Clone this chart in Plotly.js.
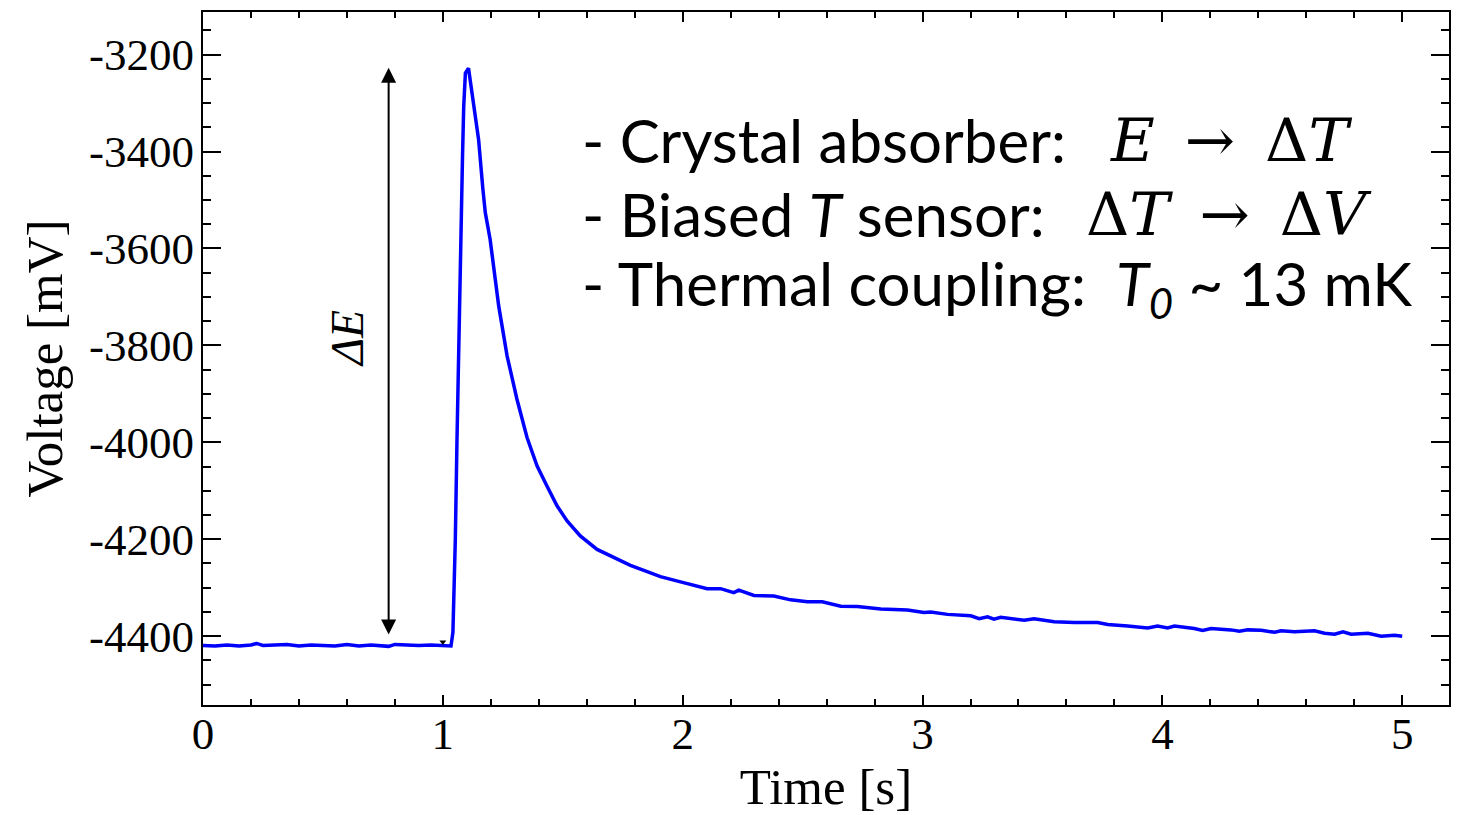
<!DOCTYPE html>
<html>
<head>
<meta charset="utf-8">
<script src="https://cdn.plot.ly/plotly-3.0.1.min.js"></script>
<style>html,body{margin:0;padding:0;background:#fff;}#chart{width:1457px;height:815px;}</style>
</head>
<body>
<div id="chart"></div>
<script>
// Pulse data
const timeS = [0, 0.05, 0.1, 0.15, 0.2, 0.224, 0.25, 0.3, 0.35, 0.4, 0.45, 0.5, 0.55, 0.6, 0.65, 0.7, 0.75, 0.774, 0.8, 0.85, 0.9, 0.95, 1.0, 1.034,
  1.042, 1.052, 1.059, 1.066, 1.073, 1.077, 1.082, 1.087, 1.094, 1.107, 1.128, 1.149, 1.167, 1.177, 1.197, 1.233, 1.268, 1.309, 1.351,
  1.393, 1.434, 1.476, 1.518, 1.573, 1.643, 1.713, 1.782, 1.852, 1.907, 1.991, 2.033, 2.102, 2.158, 2.213, 2.234, 2.297, 2.380, 2.450,
  2.520, 2.582, 2.659, 2.728, 2.826, 2.937, 3.006, 3.034, 3.104, 3.201, 3.236, 3.271, 3.298, 3.326, 3.424, 3.465, 3.549, 3.632, 3.730,
  3.772, 3.855, 3.939, 3.980, 4.022, 4.050, 4.133, 4.168, 4.203, 4.286, 4.321, 4.356, 4.412, 4.468, 4.495, 4.551, 4.634, 4.676, 4.718,
  4.753, 4.787, 4.857, 4.912, 4.968, 5.0];
const voltageMV = [-4419, -4420, -4418, -4420, -4418, -4415, -4419, -4418, -4417, -4420, -4418, -4419, -4420, -4417, -4420, -4418, -4419, -4421, -4417, -4418, -4419, -4418, -4419, -4420,
  -4392, -4200, -3994, -3788, -3581, -3513, -3410, -3307, -3238, -3228, -3307, -3375, -3478, -3526, -3581, -3719, -3822, -3911, -3990,
  -4049, -4090, -4131, -4162, -4193, -4221, -4238, -4254, -4267, -4277, -4288, -4293, -4302, -4302, -4310, -4305, -4316, -4317, -4325,
  -4329, -4329, -4338, -4339, -4344, -4346, -4351, -4350, -4355, -4358, -4364, -4360, -4365, -4361, -4367, -4364, -4370, -4372, -4372,
  -4376, -4379, -4383, -4379, -4383, -4379, -4384, -4388, -4384, -4387, -4390, -4387, -4388, -4392, -4389, -4391, -4389, -4394, -4396,
  -4391, -4396, -4394, -4400, -4398, -4400];

// trigger marker
const triggerT = [1.0];
const triggerV = [-4412];

// Delta E arrow (baseline to peak)
const deltaET = 0.774;
const deltaEV = [-4417, -3227];

const xTicks = [0, 1, 2, 3, 4, 5];
const yTicks = [-4400, -4200, -4000, -3800, -3600, -3400, -3200];

const serif = "Liberation Serif, Times New Roman, serif";
const mathSerif = "DejaVu Serif, Liberation Serif, serif";
const sans = "Lato, Noto Sans, sans-serif";

const traces = [
  {x: timeS, y: voltageMV, type: 'scatter', mode: 'lines',
   line: {color: '#0000ff', width: 3.5}, hoverinfo: 'skip'},
  {x: triggerT, y: triggerV, type: 'scatter', mode: 'markers',
   marker: {symbol: 'triangle-down', size: 6, color: '#000'}, hoverinfo: 'skip'}
];

const ann = [
  {x: deltaET, y: deltaEV[1], ax: deltaET, ay: deltaEV[0], xref: 'x', yref: 'y', axref: 'x', ayref: 'y',
   text: ' ', showarrow: true, arrowhead: 2, arrowside: 'end+start', arrowsize: 1.5, arrowwidth: 2, arrowcolor: '#000',
   startarrowhead: 2, startarrowsize: 1.5},
  {x: 0.6, y: -3785, xref: 'x', yref: 'y', text: '<i>ΔE</i>', showarrow: false, textangle: -90,
   font: {family: serif, size: 46, color: '#000'}},
  // text block
  {x: (580-203)/1246, y: (705-140)/693, xref: 'paper', yref: 'paper', xanchor: 'left', yanchor: 'middle', showarrow: false,
   text: '- Crystal absorber:', font: {family: sans, size: 60, color: '#000'}},
  {x: (1108-203)/1246, y: (705-140)/693, xref: 'paper', yref: 'paper', xanchor: 'left', yanchor: 'middle', showarrow: false,
   text: '<i>E</i>\u2002→\u2002Δ<i>T</i>', font: {family: mathSerif, size: 60, color: '#000'}},
  {x: (580-203)/1246, y: (705-214)/693, xref: 'paper', yref: 'paper', xanchor: 'left', yanchor: 'middle', showarrow: false,
   text: '- Biased <i>T</i> sensor:', font: {family: sans, size: 60, color: '#000'}},
  {x: (1084-203)/1246, y: (705-214)/693, xref: 'paper', yref: 'paper', xanchor: 'left', yanchor: 'middle', showarrow: false,
   text: 'Δ<i>T</i>\u2002→\u2002Δ<i>V</i>', font: {family: mathSerif, size: 60, color: '#000'}},
  {x: (580-203)/1246, y: (705-288)/693, xref: 'paper', yref: 'paper', xanchor: 'left', yanchor: 'middle', showarrow: false,
   text: '- Thermal coupling:\u2002<i>T<sub>0</sub></i> ~ 13 mK', font: {family: sans, size: 60, color: '#000'}}
];

const layout = {
  width: 1457, height: 815,
  margin: {l: 203, r: 8, t: 12, b: 110},
  paper_bgcolor: '#fff', plot_bgcolor: '#fff',
  showlegend: false,
  xaxis: {
    range: [0, 5.195], tickvals: xTicks, ticktext: xTicks.map(String),
    ticks: 'inside', ticklen: 10, tickwidth: 2, tickcolor: '#000',
    minor: {dtick: 0.2, ticks: 'inside', ticklen: 6, tickwidth: 2, tickcolor: '#000'},
    showline: true, linewidth: 2, linecolor: '#000', mirror: 'allticks',
    showgrid: false, zeroline: false, ticklabelstandoff: -12,
    tickfont: {family: serif, size: 45, color: '#000'},
    title: {text: 'Time [s]', font: {family: serif, size: 51, color: '#000'}, standoff: 6}
  },
  yaxis: {
    range: [-4542, -3112], tickvals: yTicks, ticktext: yTicks.map(String),
    ticks: 'inside', ticklen: 18, tickwidth: 2, tickcolor: '#000',
    minor: {dtick: 50, ticks: 'inside', ticklen: 8, tickwidth: 2, tickcolor: '#000'},
    showline: true, linewidth: 2, linecolor: '#000', mirror: 'allticks',
    showgrid: false, zeroline: false, ticklabelstandoff: -2,
    tickfont: {family: serif, size: 45, color: '#000'},
    title: {text: 'Voltage [mV]', font: {family: serif, size: 51, color: '#000'}, standoff: 10}
  },
  annotations: ann
};

Plotly.newPlot('chart', traces, layout, {displayModeBar: false, staticPlot: true});
</script>
</body>
</html>
